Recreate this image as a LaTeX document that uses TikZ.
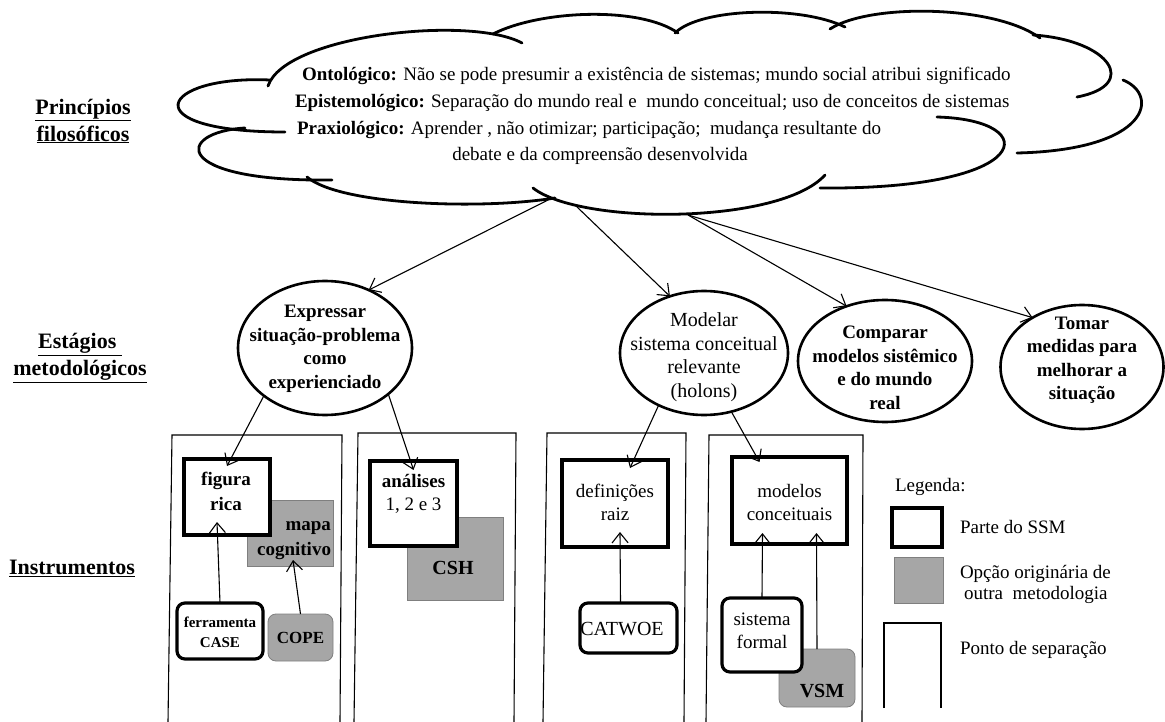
\documentclass[tikz,border=0pt]{standalone}
\usepackage{fontspec}
\setmainfont{Liberation Serif}
\usetikzlibrary{arrows.meta,shapes.geometric,calc}
\definecolor{altgray}{HTML}{A6A6A6}
\definecolor{altedge}{HTML}{7F7F7F}
\begin{document}
\begin{tikzpicture}[x=1pt,y=-1pt,
  every node/.style={inner sep=0pt,outer sep=0pt},
  side/.style={font=\fontsize{22}{27}\selectfont\bfseries,align=center},
  cloudline/.style={line width=2.8pt,line cap=round},
  cloudtxt/.style={font=\fontsize{19}{20}\selectfont,anchor=base west},
  stage/.style={ellipse,draw,line width=2.6pt},
  stagetxt/.style={font=\fontsize{19}{23.5}\selectfont\bfseries,align=center},
  ssm/.style={draw,line width=3.2pt},
  rssm/.style={ssm,rounded corners=8pt},
  alt/.style={draw=altedge,fill=altgray,line width=0.8pt},
  ralt/.style={alt,rounded corners=8pt},
  boxtxt/.style={font=\fontsize{19}{23}\selectfont,align=center},
  legtxt/.style={font=\fontsize{19}{21}\selectfont,anchor=base west},
  sepline/.style={line width=1.1pt},
  conn/.style={line width=1.1pt,-{Straight Barb[length=10pt,width=16pt,line width=1.1pt]}}
]
\useasboundingbox (0,0) rectangle (1165,722);

% row labels
\node[side] (lblphil) at (83,121) {\underline{Princípios}\\\underline{filosóficos}};
\node[side] (lblstage) at (80,358) {\underline{Estágios }\\\underline{metodológicos}};
\node[side] (lblinst) at (72,568) {\underline{Instrumentos}};

% cloud outline, one puff at a time
\draw[cloudline] (270,80) .. controls (160,75) and (130,132) .. (285,132);
\draw[cloudline] (245,128) .. controls (175,132) and (170,182) .. (332,180);
\draw[cloudline] (307,177) .. controls (340,205) and (480,210) .. (555,198);
\draw[cloudline] (533,188) .. controls (580,225) and (780,225) .. (825,175);
\draw[cloudline] (937,117) .. controls (1045,120) and (1035,190) .. (820,188);
\draw[cloudline] (1123,80) .. controls (1160,95) and (1150,150) .. (1017,153);
\draw[cloudline] (1033,35) .. controls (1110,40) and (1140,85) .. (1077,97);
\draw[cloudline] (830,29) .. controls (870,3) and (995,5) .. (1040,38);
\draw[cloudline] (675,33) .. controls (700,8) and (800,5) .. (845,27);
\draw[cloudline] (493,34) .. controls (540,10) and (640,6) .. (678,33);
\draw[cloudline] (268,86) .. controls (285,35) and (470,15) .. (522,43);

\coordinate (cl1) at (550,199);
\coordinate (cl2) at (576,206);
\coordinate (cl3) at (688,215);

% principles
\node[cloudtxt] (ont) at (302,81) {\textbf{Ontológico:} Não se pode presumir a existência de sistemas; mundo social atribui significado};
\node[cloudtxt] (epi) at (295,108) {\textbf{Epistemológico:} Separação do mundo real e\ \ mundo conceitual; uso de conceitos de sistemas};
\node[cloudtxt] (pra) at (297,135) {\textbf{Praxiológico:} Aprender , não otimizar; participação;\ \ mudança resultante do};
\node[font=\fontsize{19}{20}\selectfont,anchor=base] (deb) at (600,161) {debate e da compreensão desenvolvida};

% methodological stages
\node[stage,minimum width=174pt,minimum height=134pt] (expr) at (325,348) {};
\node[stagetxt] at (325,349) {Expressar\\situação-problema\\como\\experienciado};
\node[stage,minimum width=168pt,minimum height=124pt] (mod) at (704,353) {};
\node[stagetxt,font=\fontsize{20}{23.5}\selectfont] at (704,357) {Modelar\\sistema conceitual\\relevante\\(holons)};
\node[stage,minimum width=174pt,minimum height=122pt] (comp) at (885,361) {};
\node[stagetxt] at (885,368) {Comparar\\modelos sistêmico\\e do mundo\\real};
\node[stage,minimum width=163pt,minimum height=124pt] (tom) at (1082,367) {};
\node[stagetxt] at (1082,360) {Tomar\\medidas para\\melhorar a\\situação};

\draw[conn] (cl1) -- (expr.53);
\draw[conn] (cl2) -- (mod.121);
\draw[conn] (cl3) -- (comp.125);
\draw[conn] (cl3) -- (tom.135);

% separation points
\draw[sepline] (168,722) -- (172,435) -- (342,435) -- (340,722);
\draw[sepline] (354,722) -- (358,433) -- (516,433) -- (514,722);
\draw[sepline] (543,722) -- (547,433) -- (686,433) -- (684,722);
\draw[sepline] (706,722) -- (709,435) -- (863,435) -- (862,722);

% instruments, first panel
\node[alt,minimum width=86pt,minimum height=66pt] (mapa) at (290,533) {};
\node[boxtxt,font=\fontsize{19}{25}\selectfont\bfseries,align=right,anchor=east] at (331,541) {mapa\\cognitivo};
\node[ssm,fill=white,minimum width=86pt,minimum height=76pt] (fig) at (227,497) {};
\node[boxtxt,font=\fontsize{19}{25}\selectfont\bfseries] at (226,491) {figura\\rica};
\node[rssm,fill=white,minimum width=86pt,minimum height=56pt] (case) at (220,631) {};
\node[font=\fontsize{15}{20}\selectfont\bfseries,align=center] at (220,632) {ferramenta\\CASE};
\node[ralt,minimum width=65pt,minimum height=47pt] (cope) at (300.5,637.5) {};
\node[font=\fontsize{17}{20}\selectfont\bfseries] at (300.5,638) {COPE};
\draw[conn] (case.north) -- ([xshift=-10pt,yshift=13pt]fig.south);
\draw[conn] (cope.north) -- ([xshift=3pt,yshift=6pt]mapa.south);

% second panel
\node[alt,minimum width=96pt,minimum height=83pt] (csh) at (455,558.5) {};
\node[font=\fontsize{20}{23}\selectfont\bfseries] at (453,568) {CSH};
\node[ssm,fill=white,minimum width=87pt,minimum height=85pt] (anl) at (413.5,503.5) {};
\node[boxtxt] at (413.5,494) {\textbf{análises}\\1, 2 e 3};
\draw[conn] (expr.218) -- ([yshift=-7pt]fig.north);
\draw[conn] (expr.324) -- ([yshift=-9pt]anl.north);

% third panel
\node[ssm,minimum width=106pt,minimum height=87pt] (defn) at (615,503.5) {};
\node[boxtxt] at (615,502) {definições\\raiz};
\node[rssm,minimum width=97pt,minimum height=50pt] (cat) at (628.5,628) {};
\node[font=\fontsize{20}{23}\selectfont] at (622,629) {CATWOE};
\draw[conn] ([xshift=-8pt]cat.north) -- ([xshift=5pt,yshift=15pt]defn.south);
\draw[conn] (mod.229) -- ([xshift=15pt,yshift=-8pt]defn.north);

% fourth panel
\node[ssm,minimum width=115pt,minimum height=87pt] (mdl) at (789.5,500.5) {};
\node[boxtxt] at (789.5,502) {modelos\\conceituais};
\node[ralt,minimum width=76pt,minimum height=58pt] (vsm) at (817,678) {};
\node[font=\fontsize{20}{23}\selectfont\bfseries] at (822,691) {VSM};
\node[rssm,fill=white,minimum width=80pt,minimum height=74pt] (sf) at (762,635) {};
\node[boxtxt] at (762,631) {sistema\\formal};
\draw[conn] (sf.north) -- ([xshift=-27pt,yshift=11pt]mdl.south);
\draw[conn] (vsm.north) -- ([xshift=27pt,yshift=11pt]mdl.south);
\draw[conn] (mod.295) -- ([xshift=-30pt,yshift=-5pt]mdl.north);

% legend
\node[legtxt] (leg) at (895,491) {Legenda:};
\node[ssm,minimum width=50pt,minimum height=39pt] (legssm) at (917,527.5) {};
\node[legtxt] at (960,533) {Parte do SSM};
\node[alt,minimum width=49pt,minimum height=46pt] (legalt) at (918.5,580.5) {};
\node[legtxt] at (960,578) {Opção originária de};
\node[legtxt] at (964,599) {outra\ \ metodologia};
\draw[sepline] (884,708) -- (884,623) -- (941,623) -- (941,708);
\node[legtxt] at (960,654) {Ponto de separação};
\end{tikzpicture}
\end{document}
